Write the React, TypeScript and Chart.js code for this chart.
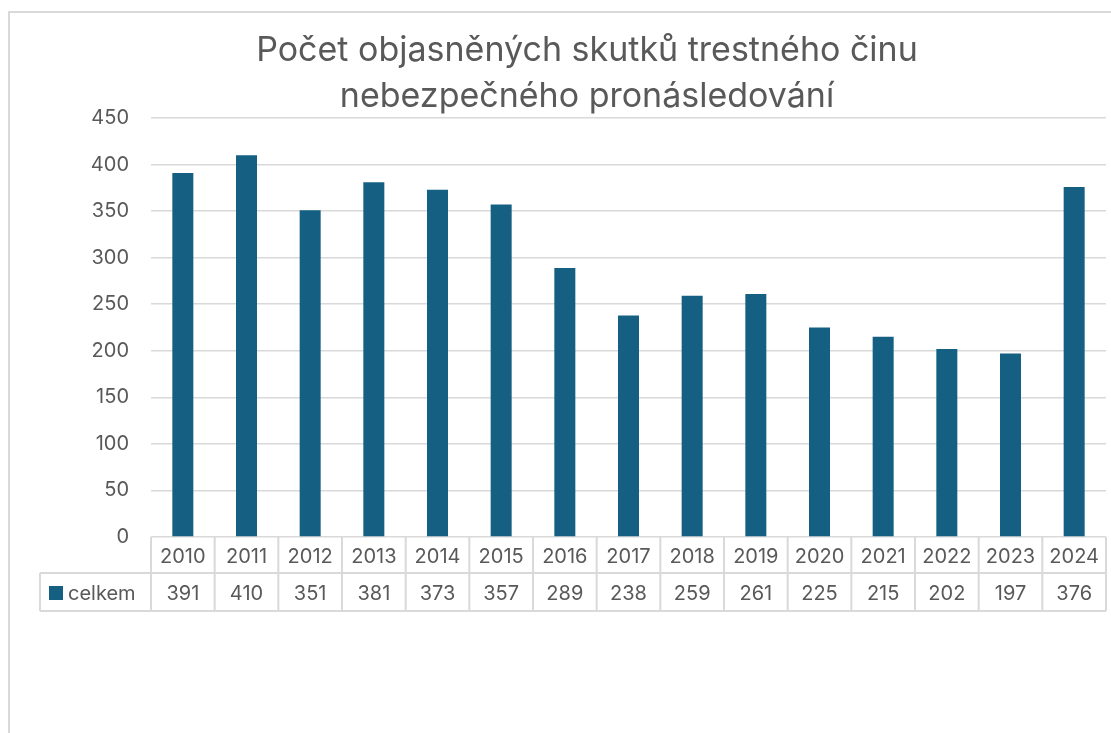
import React, { useEffect, useRef } from "react";
import { Chart, registerables } from "chart.js";

Chart.register(...registerables);

const titleLines = ["Počet objasněných skutků trestného činu", "nebezpečného pronásledování"];
const years = ["2010", "2011", "2012", "2013", "2014", "2015", "2016", "2017", "2018", "2019", "2020", "2021", "2022", "2023", "2024"];
const seriesName = "celkem";
const celkem = [391, 410, 351, 381, 373, 357, 289, 238, 259, 261, 225, 215, 202, 197, 376];
const yTicks = [0, 50, 100, 150, 200, 250, 300, 350, 400, 450];

const FONT = "Inter, 'Open Sans', 'Liberation Sans', sans-serif";
const TEXT = "#595959";
const GRID = "#d9d9d9";
const BAR = "#156082";

const framePlugin = {
  id: "frameAndTable",
  beforeDraw(chart: any) {
    const ctx = chart.ctx;
    ctx.save();
    ctx.fillStyle = "#ffffff";
    ctx.fillRect(0, 0, chart.width, chart.height);
    ctx.strokeStyle = GRID;
    ctx.lineWidth = 2;
    ctx.strokeRect(9, 12, chart.width + 50, chart.height + 50);
    ctx.restore();
  },
  afterDraw(chart: any) {
    const ctx = chart.ctx;
    const area = chart.chartArea;
    const xs = chart.scales.x;
    const n = years.length;
    const cw = (area.right - area.left) / n;
    ctx.save();
    // title
    ctx.fillStyle = TEXT;
    ctx.font = `34px ${FONT}`;
    ctx.textAlign = "center";
    ctx.textBaseline = "alphabetic";
    ctx.fillText(titleLines[0], 587, 61);
    ctx.fillText(titleLines[1], 587, 107);

    // table
    const top = area.bottom;
    const mid = top + 36;
    const bot = mid + 38;
    const legLeft = 40;
    ctx.strokeStyle = GRID;
    ctx.lineWidth = 2;
    ctx.beginPath();
    ctx.moveTo(area.left, mid);
    ctx.lineTo(area.right, mid);
    ctx.moveTo(legLeft, mid);
    ctx.lineTo(area.left, mid);
    ctx.moveTo(legLeft, bot);
    ctx.lineTo(area.right, bot);
    ctx.moveTo(legLeft, mid);
    ctx.lineTo(legLeft, bot);
    for (let i = 0; i <= n; i++) {
      const x = area.left + i * cw;
      ctx.moveTo(x, top);
      ctx.lineTo(x, bot);
    }
    ctx.stroke();
    ctx.font = `20px ${FONT}`;
    ctx.fillStyle = TEXT;
    ctx.textAlign = "center";
    for (let i = 0; i < n; i++) {
      const cx = xs.getPixelForValue(i);
      ctx.fillText(years[i], cx, top + 26);
      ctx.fillText(String(celkem[i]), cx, mid + 27);
    }
    ctx.fillStyle = BAR;
    ctx.fillRect(49, mid + 13, 14, 14);
    ctx.fillStyle = TEXT;
    ctx.textAlign = "left";
    ctx.fillText(seriesName, 68, mid + 27);
    ctx.restore();
  },
};

export default function App() {
  const ref = useRef<HTMLCanvasElement>(null);
  useEffect(() => {
    if (!ref.current) return;
    const chart = new Chart(ref.current, {
      type: "bar",
      data: {
        labels: years,
        datasets: [
          {
            label: seriesName,
            data: celkem,
            backgroundColor: BAR,
            barPercentage: 0.66,
            categoryPercentage: 0.5,
          },
        ],
      },
      options: {
        animation: false,
        responsive: false,
        layout: { padding: { left: 0, right: 5, top: 118, bottom: 196 } },
        plugins: { legend: { display: false }, title: { display: false }, tooltip: { enabled: false } },
        scales: {
          x: { display: false },
          y: {
            min: 0,
            max: 450,
            afterFit(scale: any) {
              scale.width = 151;
            },
            afterBuildTicks(scale: any) {
              scale.ticks = yTicks.map((v) => ({ value: v }));
            },
            border: { display: false },
            grid: { color: GRID, lineWidth: 1.5, drawTicks: false },
            ticks: { color: TEXT, font: { family: FONT, size: 20 }, padding: 22 },
          },
        },
      },
      plugins: [framePlugin],
    });
    return () => chart.destroy();
  }, []);
  return (
    <div style={{ position: "fixed", left: 0, top: 0, width: 1111, height: 733, background: "#fff" }}>
      <canvas ref={ref} width={1111} height={733} style={{ width: 1111, height: 733 }} />
    </div>
  );
}
